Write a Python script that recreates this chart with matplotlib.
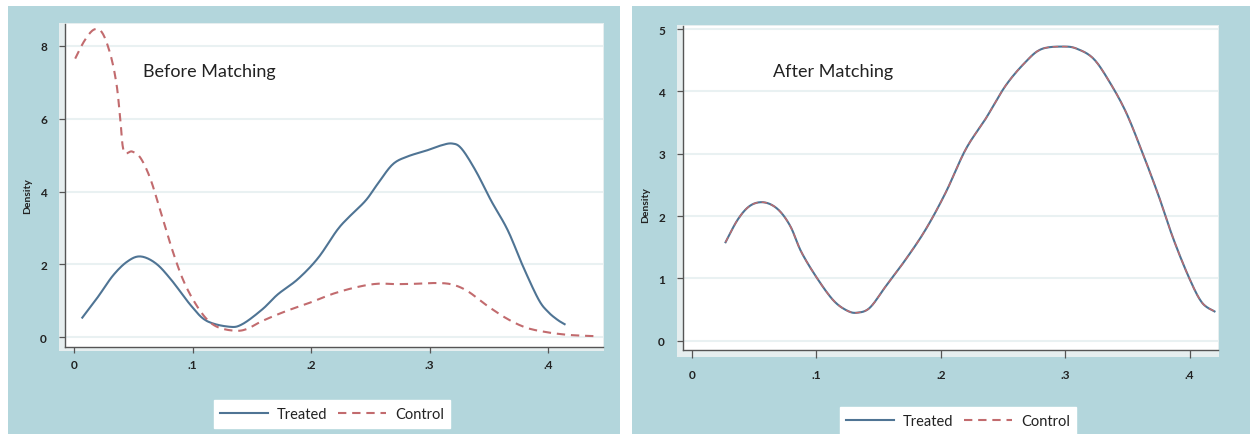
import matplotlib.pyplot as plt
from matplotlib.patches import Rectangle
from matplotlib.lines import Line2D

# Before matching: kernel density estimates
before_treated_x = [0.007, 0.020, 0.033, 0.045, 0.056, 0.069, 0.082, 0.099, 0.112,
                    0.131, 0.142, 0.159, 0.172, 0.189, 0.206, 0.222, 0.232, 0.246,
                    0.256, 0.269, 0.282, 0.296, 0.309, 0.319, 0.327, 0.339, 0.352,
                    0.366, 0.379, 0.392, 0.400, 0.408, 0.414]
before_treated_y = [0.54, 1.10, 1.70, 2.08, 2.22, 2.03, 1.58, 0.86, 0.45,
                    0.29, 0.36, 0.77, 1.18, 1.60, 2.18, 2.94, 3.30, 3.75,
                    4.20, 4.75, 4.97, 5.11, 5.26, 5.32, 5.18, 4.57, 3.75,
                    2.94, 1.94, 1.04, 0.70, 0.48, 0.36]

before_control_x = [0.001, 0.009, 0.017, 0.024, 0.031, 0.036, 0.039, 0.042, 0.049,
                    0.056, 0.064, 0.072, 0.082, 0.092, 0.102, 0.112, 0.122, 0.136,
                    0.146, 0.159, 0.179, 0.199, 0.219, 0.239, 0.256, 0.272, 0.289,
                    0.306, 0.319, 0.332, 0.349, 0.366, 0.382, 0.399, 0.416, 0.432,
                    0.441]
before_control_y = [7.65, 8.15, 8.45, 8.35, 7.73, 6.92, 6.01, 5.11, 5.10,
                    4.93, 4.39, 3.57, 2.49, 1.58, 0.95, 0.50, 0.27, 0.18,
                    0.23, 0.45, 0.72, 0.95, 1.20, 1.38, 1.47, 1.46, 1.47,
                    1.49, 1.45, 1.27, 0.86, 0.50, 0.26, 0.14, 0.07, 0.04,
                    0.03]

# After matching: treated and control overlap almost exactly
after_x = [0.027, 0.037, 0.047, 0.058, 0.069, 0.079, 0.088, 0.101, 0.114, 0.125,
           0.133, 0.143, 0.156, 0.172, 0.188, 0.204, 0.220, 0.236, 0.252, 0.268,
           0.281, 0.299, 0.310, 0.323, 0.336, 0.349, 0.362, 0.375, 0.387, 0.400,
           0.410, 0.420]
after_treated_y = [1.58, 1.95, 2.17, 2.22, 2.11, 1.84, 1.42, 0.99, 0.64, 0.48,
                   0.45, 0.53, 0.88, 1.31, 1.79, 2.38, 3.07, 3.56, 4.09, 4.47,
                   4.68, 4.72, 4.68, 4.52, 4.14, 3.66, 3.02, 2.33, 1.63, 0.99,
                   0.61, 0.47]
after_control_y = [1.58, 1.95, 2.17, 2.22, 2.11, 1.84, 1.42, 0.99, 0.64, 0.48,
                   0.45, 0.53, 0.88, 1.31, 1.79, 2.38, 3.07, 3.56, 4.09, 4.47,
                   4.68, 4.72, 4.68, 4.52, 4.14, 3.66, 3.02, 2.33, 1.63, 0.99,
                   0.61, 0.47]

x_ticks = [0, 0.1, 0.2, 0.3, 0.4]
x_tick_labels = ["0", ".1", ".2", ".3", ".4"]
before_y_ticks = [0, 2, 4, 6, 8]
after_y_ticks = [0, 1, 2, 3, 4, 5]

TEAL = "#b3d6dc"
TREATED_COLOR = "#4f7494"
CONTROL_COLOR = "#c26b6e"
GRID_COLOR = "#e9f1f2"
TEXT_COLOR = "#222222"
DASHES = (0, (4, 2.8))

W, H = 1252, 435

plt.rcParams["font.family"] = ["Lato", "DejaVu Sans"]


def fig_box(x0, y0, x1, y1):
    """Pixel box (top-left origin) to figure fraction [l, b, w, h]."""
    return [x0 / W, (H - y1) / H, (x1 - x0) / W, (y1 - y0) / H]


def smooth(xs, ys, n=12):
    """Catmull-Rom through the read points, just to avoid kinks."""
    px, py = [], []
    pts = list(zip(xs, ys))
    ext = [pts[0]] + pts + [pts[-1]]
    for i in range(1, len(ext) - 2):
        p0, p1, p2, p3 = ext[i - 1], ext[i], ext[i + 1], ext[i + 2]
        for k in range(n):
            t = k / n
            t2, t3 = t * t, t * t * t
            for j, out in ((0, px), (1, py)):
                out.append(0.5 * ((2 * p1[j]) + (-p0[j] + p2[j]) * t
                                  + (2 * p0[j] - 5 * p1[j] + 4 * p2[j] - p3[j]) * t2
                                  + (-p0[j] + 3 * p1[j] - 3 * p2[j] + p3[j]) * t3))
    px.append(pts[-1][0])
    py.append(pts[-1][1])
    return px, py


def style_axis(ax, xlim, ylim, y_ticks):
    ax.set_facecolor("white")
    ax.set_xlim(*xlim)
    ax.set_ylim(*ylim)
    ax.set_xticks(x_ticks)
    ax.set_xticklabels(x_tick_labels)
    ax.set_yticks(y_ticks)
    for side in ("top", "right"):
        ax.spines[side].set_visible(False)
    for side in ("left", "bottom"):
        ax.spines[side].set_color("#555555")
        ax.spines[side].set_linewidth(1.0)
    ax.tick_params(axis="both", length=4, width=0.9, color="#555555",
                   labelsize=8.5, labelcolor=TEXT_COLOR)
    ax.tick_params(axis="x", pad=5)
    ax.tick_params(axis="y", pad=9)
    for label in ax.get_xticklabels() + ax.get_yticklabels():
        label.set_fontweight("bold")
    ax.grid(axis="y", color=GRID_COLOR, linewidth=1.5)
    ax.set_axisbelow(True)
    ax.set_ylabel("Density", fontsize=7.5, fontweight="bold", color=TEXT_COLOR)


fig = plt.figure(figsize=(W / 100, H / 100), dpi=100, facecolor="white")

# teal panel backgrounds
for x0, x1 in ((8, 620), (632, 1250)):
    l, b, w, h = fig_box(x0, 7, x1, H)
    fig.patches.append(Rectangle((l, b), w, h, transform=fig.transFigure,
                                 facecolor=TEAL, edgecolor="none", zorder=-10))
# thin light frame around the plot regions
for box in ((59, 24, 604, 352), (677, 26, 1219, 358)):
    l, b, w, h = fig_box(*box)
    fig.patches.append(Rectangle((l, b), w, h, transform=fig.transFigure,
                                 facecolor="#e6eeef", edgecolor="none", zorder=-5))

ax_before = fig.add_axes(fig_box(65, 25, 603, 348))
ax_after = fig.add_axes(fig_box(683, 27, 1218, 351))

sx, sy = smooth(before_treated_x, before_treated_y)
ax_before.plot(sx, sy, color=TREATED_COLOR, linewidth=1.5, label="Treated")
sx, sy = smooth(before_control_x, before_control_y)
ax_before.plot(sx, sy, color=CONTROL_COLOR, linewidth=1.5, linestyle=DASHES,
               label="Control")
style_axis(ax_before, (-0.0076, 0.4464), (-0.266, 8.6), before_y_ticks)
ax_before.text(0.058, 7.3, "Before Matching", fontsize=13, color=TEXT_COLOR,
               ha="left", va="center")
ax_before.yaxis.set_label_coords(-0.062, 0.47)

sx, sy = smooth(after_x, after_treated_y)
ax_after.plot(sx, sy, color=TREATED_COLOR, linewidth=1.5, label="Treated")
sx, sy = smooth(after_x, after_control_y)
ax_after.plot(sx, sy, color=CONTROL_COLOR, linewidth=1.0, linestyle=DASHES,
              label="Control")
style_axis(ax_after, (-0.0072, 0.4228), (-0.149, 5.05), after_y_ticks)
ax_after.tick_params(axis="x", length=6, pad=8)
ax_after.text(0.065, 4.33, "After Matching", fontsize=13, color=TEXT_COLOR,
              ha="left", va="center")
ax_after.yaxis.set_label_coords(-0.062, 0.45)

handles = [Line2D([], [], color=TREATED_COLOR, linewidth=1.5),
           Line2D([], [], color=CONTROL_COLOR, linewidth=1.5, linestyle=DASHES)]
for center_x, center_y in ((332, 415), (958, 422)):
    legend = fig.legend(handles, ["Treated", "Control"], loc="center", ncol=2,
                        bbox_to_anchor=(center_x / W, 1 - center_y / H),
                        fontsize=10.5, frameon=True, fancybox=False,
                        handlelength=3.3, columnspacing=0.7, handletextpad=0.6,
                        borderpad=0.45)
    legend.get_frame().set_facecolor("white")
    legend.get_frame().set_edgecolor("white")
    legend.get_frame().set_alpha(1.0)
    for text in legend.get_texts():
        text.set_color(TEXT_COLOR)

fig.savefig("out.png", dpi=100, facecolor="white")
